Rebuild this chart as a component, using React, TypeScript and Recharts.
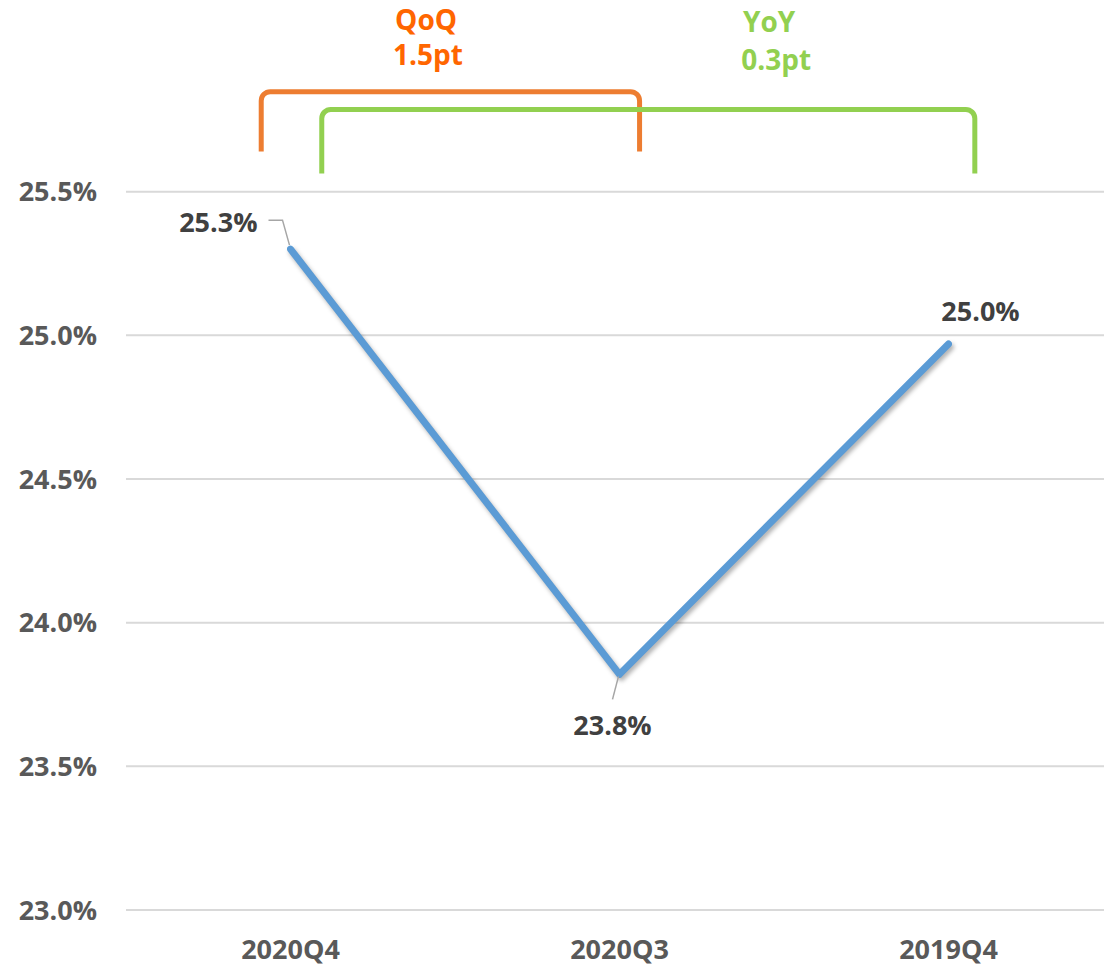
import React from 'react';
import { LineChart, Line, XAxis, YAxis, CartesianGrid, ReferenceDot } from 'recharts';

const periods = ['2020Q4', '2020Q3', '2019Q4'];
const ratio = [25.3, 23.82, 24.97];
const yTicks = [23.0, 23.5, 24.0, 24.5, 25.0, 25.5];

// bracket annotations in data space (x = category index, y = %)
const qoqBracketX = [-0.089, -0.089, 1.061, 1.061];
const qoqBracketY = [25.64, 25.848, 25.848, 25.64];
const yoyBracketX = [0.095, 0.095, 2.08, 2.08];
const yoyBracketY = [25.563, 25.786, 25.786, 25.563];
const qoqText = ['QoQ', '1.5pt'];
const yoyText = ['YoY', '0.3pt'];

const rows = periods.map((p, i) => ({ x: i, value: ratio[i] }));
const qoqRows = qoqBracketX.map((x, i) => ({ x, value: qoqBracketY[i] }));
const yoyRows = yoyBracketX.map((x, i) => ({ x, value: yoyBracketY[i] }));

const FONT = '"Open Sans", sans-serif';

// curve with rounded corners
const roundedCurve = (context: any) => {
    let pts: number[][] = [];
    return {
        areaStart() {},
        areaEnd() {},
        lineStart() { pts = []; },
        point(x: number, y: number) { pts.push([x, y]); },
        lineEnd() {
            if (!pts.length) return;
            context.moveTo(pts[0][0], pts[0][1]);
            for (let i = 1; i < pts.length - 1; i++) {
                context.arcTo(pts[i][0], pts[i][1], pts[i + 1][0], pts[i + 1][1], 9);
            }
            const last = pts[pts.length - 1];
            context.lineTo(last[0], last[1]);
        }
    };
};

const labelOffsets = [
    { dx: -33, dy: -27, anchor: 'end' },
    { dx: -7, dy: 51, anchor: 'middle' },
    { dx: 32, dy: -32, anchor: 'middle' }
];

const PointLabel = (props: any) => {
    const { x, y, value, index } = props;
    const o = labelOffsets[index] || labelOffsets[0];
    return (
        <g>
            {index === 0 && (
                <polyline
                    points={`${x - 22},${y - 29} ${x - 8},${y - 29} ${x - 1},${y - 4}`}
                    fill="none"
                    stroke="#A6A6A6"
                    strokeWidth={1.5}
                />
            )}
            {index === 1 && (
                <line x1={x - 1} y1={y + 2} x2={x - 7} y2={y + 25} stroke="#A6A6A6" strokeWidth={1.5} />
            )}
            <text
                x={x + o.dx}
                y={y + o.dy}
                dy="0.35em"
                textAnchor={o.anchor}
                fill="#404040"
                fontFamily={FONT}
                fontWeight={700}
                fontSize={27}
            >
                {Number(value).toFixed(1)}%
            </text>
        </g>
    );
};

const noteLabel = (lines: string[], color: string, y1: number, y2: number, dx2: number) => (props: any) => {
    const { viewBox } = props;
    const cx = viewBox.x + viewBox.width / 2;
    const cy = viewBox.y + viewBox.height / 2;
    return (
        <g fontFamily={FONT} fontWeight={700} fontSize={28} fill={color} textAnchor="middle">
            <text x={cx} y={cy + y1}>{lines[0]}</text>
            <text x={cx + dx2} y={cy + y2}>{lines[1]}</text>
        </g>
    );
};

const tickStyle = { fill: '#595959', fontSize: 27, fontWeight: 700, fontFamily: FONT };

export default function App() {
    return (
        <div style={{ position: 'absolute', left: 0, top: 0, width: 1104, height: 968, overflow: 'hidden', background: '#fff' }}>
            <style>{`.main-line .recharts-line-curve { filter: drop-shadow(2px 3px 2px rgba(0,0,0,0.3)); }`}</style>
            <LineChart width={1113} height={968} margin={{ top: 48, right: 0, bottom: 0, left: 0 }}>
                <CartesianGrid vertical={false} horizontalValues={yTicks} stroke="#D9D9D9" strokeWidth={2} />
                <XAxis
                    type="number"
                    dataKey="x"
                    domain={[-0.5, 2.5]}
                    ticks={[0, 1, 2]}
                    tickFormatter={(i: number) => periods[i] ?? ''}
                    axisLine={false}
                    tickLine={false}
                    tickSize={0}
                    tickMargin={30}
                    height={58}
                    allowDataOverflow
                    tick={tickStyle}
                />
                <YAxis
                    type="number"
                    domain={[23, 26]}
                    ticks={yTicks}
                    tickFormatter={(v: number) => `${v.toFixed(1)}%`}
                    axisLine={false}
                    tickLine={false}
                    tickSize={0}
                    tickMargin={29}
                    width={126}
                    allowDataOverflow
                    tick={tickStyle}
                />
                <Line
                    data={qoqRows}
                    dataKey="value"
                    type={roundedCurve as any}
                    stroke="#ED7D31"
                    strokeWidth={5}
                    dot={false}
                    activeDot={false}
                    isAnimationActive={false}
                />
                <Line
                    data={yoyRows}
                    dataKey="value"
                    type={roundedCurve as any}
                    stroke="#92D050"
                    strokeWidth={5}
                    dot={false}
                    activeDot={false}
                    isAnimationActive={false}
                />
                <Line
                    className="main-line"
                    data={rows}
                    dataKey="value"
                    type="linear"
                    stroke="#5B9BD5"
                    strokeWidth={7}
                    strokeLinecap="round"
                    strokeLinejoin="round"
                    dot={false}
                    activeDot={false}
                    isAnimationActive={false}
                    label={<PointLabel />}
                />
                <ReferenceDot
                    x={0.412}
                    y={26}
                    r={0}
                    fill="none"
                    stroke="none"
                    ifOverflow="visible"
                    label={noteLabel(qoqText, '#FF6600', -18, 17, 2)}
                />
                <ReferenceDot
                    x={1.455}
                    y={26}
                    r={0}
                    fill="none"
                    stroke="none"
                    ifOverflow="visible"
                    label={noteLabel(yoyText, '#92D050', -16, 22, 7)}
                />
            </LineChart>
        </div>
    );
}
